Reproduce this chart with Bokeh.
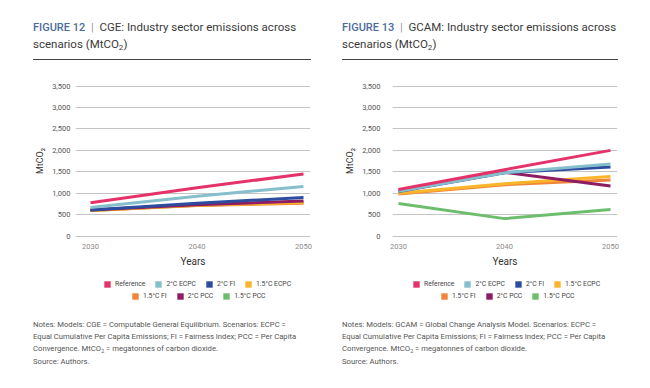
from bokeh.plotting import figure
from bokeh.models import Div, Legend, LegendItem, FixedTicker, NumeralTickFormatter, Range1d
from bokeh.layouts import row, column
from bokeh.embed import file_html
from bokeh.resources import INLINE

years = [2030, 2040, 2050]
scenarios = ["Reference", "2°C ECPC", "2°C FI", "1.5°C ECPC", "1.5°C FI", "2°C PCC", "1.5°C PCC"]
colors = ["#E5336A", "#84BFCB", "#2D4C9E", "#FBB52A", "#F0843A", "#8D1C63", "#6DBE6C"]
y_ticks = [0, 500, 1000, 1500, 2000, 2500, 3000, 3500]

# CGE (MtCO2)
cge_reference = [780, 1130, 1450]
cge_2c_ecpc = [670, 930, 1160]
cge_2c_fi = [610, 770, 900]
cge_15c_ecpc = [600, 720, 785]
cge_15c_fi = [600, 715, 770]
cge_2c_pcc = [610, 735, 820]
cge_15c_pcc = [600, 720, 790]

# GCAM (MtCO2)
gcam_reference = [1090, 1550, 2000]
gcam_2c_ecpc = [1050, 1480, 1680]
gcam_2c_fi = [1040, 1480, 1610]
gcam_15c_ecpc = [1000, 1225, 1390]
gcam_15c_fi = [985, 1200, 1310]
gcam_2c_pcc = [1060, 1490, 1170]
gcam_15c_pcc = [760, 410, 620]

cge = [cge_reference, cge_2c_ecpc, cge_2c_fi, cge_15c_ecpc, cge_15c_fi, cge_2c_pcc, cge_15c_pcc]
gcam = [gcam_reference, gcam_2c_ecpc, gcam_2c_fi, gcam_15c_ecpc, gcam_15c_fi, gcam_2c_pcc, gcam_15c_pcc]

draw_order = [6, 4, 3, 5, 2, 1, 0]
FONT = "Roboto"
CSS_FONT = "Roboto, sans-serif"
NOADJ = "-webkit-text-size-adjust:none;text-size-adjust:none;"
SUB2 = '<span style="font-size:70%;vertical-align:-2px;line-height:0;">2</span>'


def make_title(fig_no, model, width, pad_left, line_w):
    html = (
        f'<div style="font-family:{CSS_FONT};{NOADJ}width:{line_w}px;margin-left:{pad_left}px;'
        f'padding-top:19px;padding-bottom:6px;border-bottom:1px solid #444;'
        f'line-height:17px;font-size:11.5px;color:#3a3a3a;white-space:nowrap;">'
        f'<span style="color:#4B6C9C;font-size:11px;font-weight:500;">FIGURE {fig_no}</span>'
        f'<span style="color:#999;">&nbsp;&nbsp;|&nbsp;&nbsp;</span>'
        f'<span>{model}: Industry sector emissions across</span><br>'
        f'<span>scenarios (MtCO{SUB2})</span></div>'
    )
    return Div(text=html, width=width, height=68, margin=0)


def make_notes(model_text, width, pad_left):
    html = (
        f'<div style="font-family:{CSS_FONT};{NOADJ}margin-left:{pad_left}px;padding-top:9px;'
        f'font-size:7.7px;line-height:12px;color:#555;white-space:nowrap;">'
        f'Notes: Models: {model_text}. Scenarios: ECPC =<br>'
        f'Equal Cumulative Per Capita Emissions; FI = Fairness Index; PCC = Per Capita<br>'
        f'Convergence. MtCO{SUB2} = megatonnes of carbon dioxide.'
        f'<div style="margin-top:1px;">Source: Authors.</div></div>'
    )
    return Div(text=html, width=width, height=72, margin=0)


def make_plot(data, width, x_start, x_end, border_left, border_right, ylab_standoff):
    p = figure(width=width, height=204, output_backend="svg", toolbar_location=None,
               x_range=Range1d(x_start, x_end), y_range=Range1d(-30, 3535),
               min_border_left=border_left, min_border_right=border_right,
               min_border_top=16, min_border_bottom=35)
    p.outline_line_color = None
    p.xgrid.grid_line_color = None
    p.ygrid.grid_line_color = "#C4C4C4"
    p.ygrid.grid_line_width = 1
    p.ygrid.ticker = FixedTicker(ticks=y_ticks)

    p.yaxis.ticker = FixedTicker(ticks=y_ticks)
    p.yaxis.formatter = NumeralTickFormatter(format="0,0")
    p.xaxis.ticker = FixedTicker(ticks=years)
    for ax in (p.xaxis[0], p.yaxis[0]):
        ax.axis_line_color = None
        ax.major_tick_line_color = None
        ax.minor_tick_line_color = None
        ax.major_tick_out = 0
        ax.minor_tick_out = 0
        ax.major_label_text_font = FONT
        ax.major_label_text_font_size = "7.5px"
        ax.axis_label_text_font = FONT
        ax.axis_label_text_font_style = "normal"
        ax.axis_label_text_color = "#333333"
    p.xaxis.major_label_text_color = "#8a8a8a"
    p.yaxis.major_label_text_color = "#555555"
    p.xaxis.axis_label = "Years"
    p.xaxis.axis_label_text_font_size = "10px"
    p.xaxis.major_label_standoff = 6
    p.xaxis.axis_label_standoff = 4
    p.yaxis.axis_label = "MtCO₂"
    p.yaxis.axis_label_text_font_size = "9px"
    p.yaxis.major_label_standoff = ylab_standoff
    p.yaxis.axis_label_standoff = 4

    for i in draw_order:
        p.line(years, data[i], line_width=3, color=colors[i])
    return p


def make_legend(width, border_left, border_right, x1, x2):
    p = figure(width=width, height=38, output_backend="svg", toolbar_location=None,
               x_range=Range1d(0, 1), y_range=Range1d(0, 1),
               min_border_left=border_left, min_border_right=border_right,
               min_border_top=0, min_border_bottom=0)
    p.axis.visible = False
    p.grid.visible = False
    p.outline_line_color = None
    items = []
    for i, name in enumerate(scenarios):
        # swatch renderer lies outside the visible range; it only feeds the legend glyph
        r = p.quad(left=[5], right=[6], top=[5], bottom=[6], fill_color=colors[i], line_color=None)
        items.append(LegendItem(label=name, renderers=[r]))
    for its, lx, ly in ((items[:4], x1, 22), (items[4:], x2, 10)):
        leg = Legend(items=its, orientation="horizontal", location=(lx, ly),
                     glyph_width=8, glyph_height=8, label_standoff=4, spacing=9,
                     padding=0, margin=0, border_line_color=None, background_fill_alpha=0,
                     label_text_font=FONT, label_text_font_size="6.8px",
                     label_text_color="#444444", label_height=8, label_width=1)
        p.add_layout(leg)
    return p


LW, RW = 325, 323
p1 = make_plot(cge, LW, 2030 - 15 / 10.65, 2050 + 7 / 10.65, 75, 15, 5)
p2 = make_plot(gcam, RW, 2030 - 6 / 10.6, 2050 + 7 / 10.6, 67, 31, 12)

left = column(make_title("12", "CGE", LW, 33, 278), p1, make_legend(LW, 75, 15, 28, 56),
              make_notes("CGE = Computable General Equilibrium", LW, 33))
right = column(make_title("13", "GCAM", RW, 17, 276), p2, make_legend(RW, 67, 31, 20, 48),
               make_notes("GCAM = Global Change Analysis Model", RW, 17))
layout = row(left, right)

open("out.html", "w").write(file_html(layout, INLINE))
